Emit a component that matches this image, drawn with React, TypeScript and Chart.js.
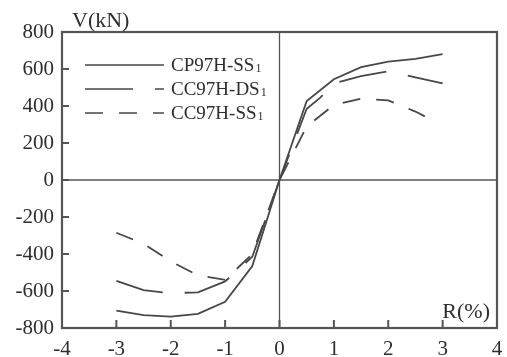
import React, { useEffect, useRef } from "react";
import { Chart, registerables } from "chart.js";
Chart.register(...registerables);

const xTickValues = [-4, -3, -2, -1, 0, 1, 2, 3, 4];
const yTickValues = [-800, -600, -400, -200, 0, 200, 400, 600, 800];
const seriesNames = ["CP97H-SS", "CC97H-DS", "CC97H-SS"];
const seriesSub = "1";
const cpR = [-3, -2.5, -2, -1.5, -1, -0.5, 0, 0.5, 1, 1.5, 2, 2.5, 3];
const cpV = [-706, -730, -739, -724, -658, -465, 0, 427, 545, 610, 640, 655, 680];
const dsR = [-3, -2.5, -2, -1.5, -1, -0.5, 0, 0.5, 0.75, 1, 1.5, 2, 2.5, 3];
const dsV = [-545, -595, -612, -607, -548, -415, 0, 385, 445, 522, 562, 588, 555, 522];
const ssR = [-3, -2.5, -2, -1.5, -1, -0.5, 0, 0.5, 1, 1.5, 2, 2.5, 2.7];
const ssV = [-285, -345, -440, -515, -540, -400, 0, 290, 405, 440, 430, 370, 340];
const yTitle = "V(kN)";
const xTitle = "R(%)";

const FONT = "'Liberation Serif', 'Times New Roman', serif";
const TEXT = "#2e2e2e";
const LINE = "#474747";
const dashes = [[], [48, 22], [18, 16]];

const toPts = (r: number[], v: number[]) => r.map((x, i) => ({ x, y: v[i] }));

const decor = {
  id: "decor",
  beforeDatasetsDraw(chart: any) {
    const { ctx, chartArea: a, scales } = chart;
    const xs = scales.x, ys = scales.y;
    ctx.save();
    ctx.strokeStyle = "#555555";
    ctx.lineWidth = 1.3;
    const x0 = xs.getPixelForValue(0), y0 = ys.getPixelForValue(0);
    ctx.beginPath();
    ctx.moveTo(x0, a.top); ctx.lineTo(x0, a.bottom);
    ctx.moveTo(a.left, y0); ctx.lineTo(a.right, y0);
    ctx.stroke();
    ctx.lineWidth = 2;
    ctx.beginPath();
    xs.ticks.forEach((t: any) => {
      const px = xs.getPixelForValue(t.value);
      ctx.moveTo(px, a.bottom); ctx.lineTo(px, a.bottom - 8);
    });
    ys.ticks.forEach((t: any) => {
      const py = ys.getPixelForValue(t.value);
      ctx.moveTo(a.left, py); ctx.lineTo(a.left + 7, py);
    });
    ctx.stroke();
    ctx.lineWidth = 2.2;
    ctx.strokeRect(a.left, a.top, a.right - a.left, a.bottom - a.top);
    ctx.restore();
  },
  afterDraw(chart: any) {
    const { ctx, chartArea: a } = chart;
    ctx.save();
    ctx.fillStyle = TEXT;
    ctx.font = `22px ${FONT}`;
    ctx.textBaseline = "alphabetic";
    ctx.textAlign = "left";
    ctx.fillText(yTitle, a.left + 10, a.top - 5);
    ctx.textAlign = "right";
    ctx.fillText(xTitle, a.right - 7, a.bottom - 10);
    // legend
    const rows = [a.top + 33, a.top + 57, a.top + 81];
    chart.data.datasets.forEach((ds: any, i: number) => {
      const y = rows[i];
      ctx.strokeStyle = LINE;
      ctx.lineWidth = 1.6;
      ctx.setLineDash(dashes[i]);
      ctx.beginPath();
      ctx.moveTo(a.left + 23, y);
      ctx.lineTo(a.left + 102, y);
      ctx.stroke();
      ctx.setLineDash([]);
      ctx.textAlign = "left";
      ctx.textBaseline = "middle";
      ctx.font = `19px ${FONT}`;
      const tx = a.left + 109;
      ctx.fillText(ds.label, tx, y + 1);
      const w = ctx.measureText(ds.label).width;
      ctx.font = `12px ${FONT}`;
      ctx.fillText(seriesSub, tx + w + 1, y + 4);
    });
    ctx.restore();
  },
};

export default function App() {
  const ref = useRef<HTMLCanvasElement>(null);
  useEffect(() => {
    if (!ref.current) return;
    const chart = new Chart(ref.current, {
      type: "line",
      data: {
        datasets: [
          { label: seriesNames[0], data: toPts(cpR, cpV) },
          { label: seriesNames[1], data: toPts(dsR, dsV) },
          { label: seriesNames[2], data: toPts(ssR, ssV) },
        ].map((d, i) => ({
          ...d,
          borderColor: LINE,
          borderWidth: 1.8,
          borderDash: dashes[i],
          pointRadius: 0,
          tension: 0,
          fill: false,
        })),
      },
      options: {
        responsive: false,
        animation: false,
        layout: { padding: { top: 32, right: 10, left: 0, bottom: 0 } },
        plugins: { legend: { display: false }, tooltip: { enabled: false } },
        scales: {
          x: {
            type: "linear",
            min: -4,
            max: 4,
            afterBuildTicks: (s: any) => { s.ticks = xTickValues.map((v) => ({ value: v })); },
            afterFit: (s: any) => { s.height = 29; s.paddingLeft = 0; s.paddingRight = 0; },
            grid: { display: false, drawTicks: false },
            border: { display: false },
            ticks: {
              padding: 9,
              color: TEXT,
              font: { family: FONT, size: 21 },
              callback: (v: any) => String(v),
              maxRotation: 0,
              autoSkip: false,
            },
          },
          y: {
            type: "linear",
            min: -800,
            max: 800,
            afterBuildTicks: (s: any) => { s.ticks = yTickValues.map((v) => ({ value: v })); },
            afterFit: (s: any) => { s.width = 62; },
            grid: { display: false, drawTicks: false },
            border: { display: false },
            ticks: {
              padding: 8,
              color: TEXT,
              font: { family: FONT, size: 21 },
              callback: (v: any) => String(v),
              autoSkip: false,
            },
          },
        },
      },
      plugins: [decor],
    });
    return () => chart.destroy();
  }, []);
  return (
    <div style={{ position: "absolute", left: 0, top: 0, width: 507, height: 357, background: "#fff" }}>
      <canvas ref={ref} width={507} height={357} />
    </div>
  );
}
